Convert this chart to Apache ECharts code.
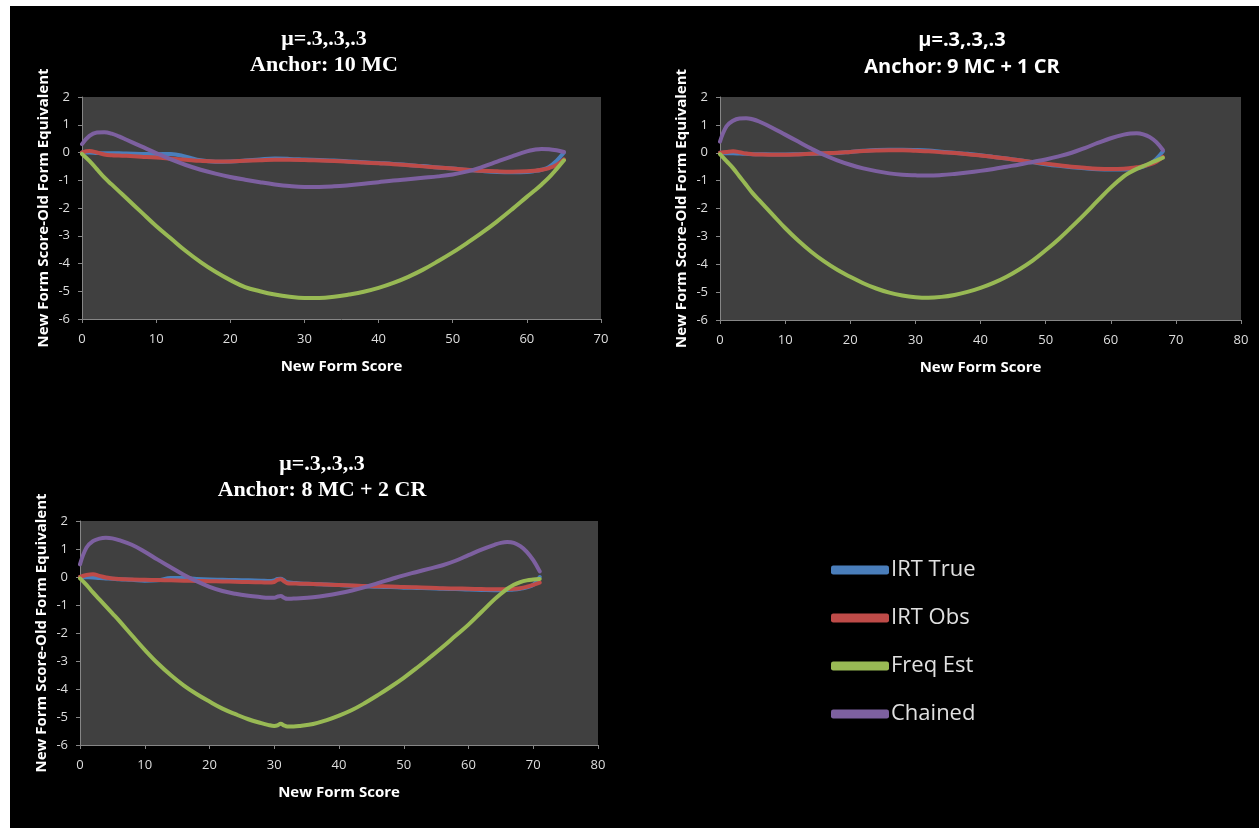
<!DOCTYPE html>
<html>
<head>
<meta charset="utf-8">
<script src="https://cdn.jsdelivr.net/npm/echarts@6/dist/echarts.min.js"></script>
<style>
html,body{margin:0;padding:0;background:#fff;width:1259px;height:828px;overflow:hidden;}
#chart{position:absolute;left:10px;top:6px;width:1249px;height:822px;background:#000;}
</style>
</head>
<body>
<div id="chart"></div>
<script>
// ---------- Data ----------
const seriesNames = ['IRT True', 'IRT Obs', 'Freq Est', 'Chained'];
const seriesColors = ['#4a7ebb', '#be4b48', '#98b954', '#7d60a0'];
const titles = ['μ=.3,.3,.3\nAnchor: 10 MC', 'μ=.3,.3,.3\nAnchor: 9 MC + 1 CR', 'μ=.3,.3,.3\nAnchor: 8 MC + 2 CR'];
const xMax = [70, 80, 80];

// Chart 1: Anchor 10 MC
const x1 = [0,1,2,3,4,5,6,8,10,12,14,16,18,20,22,24,26,28,30,32,34,36,38,40,42,44,46,48,50,52,54,56,58,60,61,62,63,64,65];
const irtTrue1 = [0,0,-0.02,-0.03,-0.03,-0.03,-0.04,-0.05,-0.06,-0.05,-0.15,-0.28,-0.33,-0.32,-0.29,-0.25,-0.22,-0.23,-0.25,-0.27,-0.29,-0.32,-0.35,-0.38,-0.41,-0.45,-0.49,-0.54,-0.58,-0.63,-0.67,-0.7,-0.71,-0.7,-0.67,-0.62,-0.52,-0.3,0];
const irtObs1 = [0,0.05,0,-0.07,-0.1,-0.11,-0.12,-0.15,-0.18,-0.22,-0.26,-0.3,-0.32,-0.32,-0.3,-0.28,-0.26,-0.26,-0.27,-0.29,-0.31,-0.33,-0.36,-0.39,-0.42,-0.46,-0.5,-0.54,-0.58,-0.62,-0.66,-0.68,-0.69,-0.68,-0.66,-0.62,-0.56,-0.45,-0.25];
const freqEst1 = [-0.05,-0.3,-0.6,-0.9,-1.15,-1.4,-1.65,-2.15,-2.65,-3.1,-3.55,-3.95,-4.3,-4.6,-4.85,-5.0,-5.12,-5.2,-5.24,-5.24,-5.2,-5.12,-5.02,-4.88,-4.7,-4.48,-4.22,-3.92,-3.6,-3.25,-2.88,-2.48,-2.05,-1.6,-1.38,-1.15,-0.9,-0.6,-0.28];
const chained1 = [0.3,0.6,0.72,0.73,0.68,0.58,0.46,0.22,-0.02,-0.25,-0.45,-0.62,-0.76,-0.88,-0.98,-1.07,-1.15,-1.21,-1.24,-1.24,-1.22,-1.18,-1.13,-1.07,-1.01,-0.96,-0.91,-0.86,-0.79,-0.68,-0.52,-0.33,-0.14,0.04,0.1,0.13,0.12,0.08,0.02];

// Chart 2: Anchor 9 MC + 1 CR
const x2 = [0,1,2,3,4,5,6,8,10,12,14,16,18,20,22,24,26,28,30,32,34,36,38,40,42,44,46,48,50,52,54,56,58,60,62,63,64,65,66,67,68];
const irtTrue2 = [0,-0.02,-0.02,-0.03,-0.04,-0.05,-0.05,-0.06,-0.06,-0.05,-0.04,-0.03,-0.01,0.03,0.07,0.1,0.11,0.11,0.1,0.08,0.04,0,-0.04,-0.09,-0.15,-0.21,-0.27,-0.34,-0.41,-0.47,-0.52,-0.56,-0.59,-0.6,-0.6,-0.59,-0.56,-0.5,-0.4,-0.22,0.05];
const irtObs2 = [0,0.03,0.05,0.02,-0.03,-0.05,-0.06,-0.07,-0.07,-0.06,-0.04,-0.02,0,0.03,0.06,0.08,0.09,0.09,0.07,0.05,0.02,-0.01,-0.05,-0.1,-0.15,-0.21,-0.27,-0.33,-0.39,-0.45,-0.5,-0.54,-0.57,-0.58,-0.57,-0.55,-0.52,-0.48,-0.42,-0.32,-0.15];
const freqEst2 = [-0.05,-0.3,-0.55,-0.85,-1.15,-1.45,-1.7,-2.2,-2.7,-3.15,-3.55,-3.9,-4.2,-4.45,-4.68,-4.87,-5.02,-5.12,-5.18,-5.2,-5.17,-5.1,-4.99,-4.85,-4.67,-4.45,-4.18,-3.87,-3.5,-3.1,-2.66,-2.2,-1.72,-1.25,-0.85,-0.7,-0.58,-0.48,-0.38,-0.28,-0.18];
const chained2 = [0.4,0.95,1.15,1.23,1.24,1.2,1.12,0.9,0.65,0.4,0.15,-0.08,-0.27,-0.43,-0.56,-0.66,-0.74,-0.79,-0.81,-0.82,-0.8,-0.76,-0.71,-0.65,-0.58,-0.5,-0.42,-0.33,-0.24,-0.13,0,0.17,0.35,0.52,0.65,0.69,0.7,0.66,0.56,0.38,0.1];

// Chart 3: Anchor 8 MC + 2 CR
const x3 = [0,1,2,3,4,5,6,8,10,12,14,16,18,20,22,24,26,28,29,30,30.5,31,31.5,32,33,34,36,38,40,42,44,46,48,50,52,54,56,58,60,62,64,65,66,67,68,69,70,71];
const irtTrue3 = [0,-0.01,-0.02,-0.04,-0.05,-0.06,-0.08,-0.1,-0.13,-0.12,-0.04,-0.04,-0.07,-0.09,-0.1,-0.11,-0.12,-0.13,-0.14,-0.12,-0.07,-0.06,-0.12,-0.19,-0.21,-0.23,-0.25,-0.27,-0.29,-0.31,-0.33,-0.35,-0.36,-0.38,-0.39,-0.4,-0.42,-0.43,-0.45,-0.46,-0.47,-0.47,-0.46,-0.45,-0.42,-0.37,-0.28,0];
const irtObs3 = [0,0.07,0.1,0.04,-0.02,-0.05,-0.07,-0.09,-0.1,-0.11,-0.12,-0.13,-0.14,-0.15,-0.16,-0.17,-0.18,-0.19,-0.2,-0.18,-0.1,-0.08,-0.15,-0.22,-0.23,-0.24,-0.25,-0.27,-0.29,-0.3,-0.32,-0.33,-0.34,-0.36,-0.37,-0.38,-0.4,-0.41,-0.42,-0.43,-0.44,-0.44,-0.43,-0.42,-0.4,-0.35,-0.28,-0.2];
const freqEst3 = [-0.05,-0.28,-0.55,-0.8,-1.05,-1.3,-1.55,-2.08,-2.6,-3.08,-3.5,-3.87,-4.18,-4.45,-4.7,-4.9,-5.08,-5.22,-5.28,-5.32,-5.3,-5.24,-5.3,-5.34,-5.34,-5.32,-5.25,-5.12,-4.95,-4.75,-4.5,-4.22,-3.92,-3.6,-3.25,-2.88,-2.5,-2.1,-1.7,-1.25,-0.8,-0.6,-0.42,-0.28,-0.18,-0.12,-0.09,-0.07];
const chained3 = [0.45,1.05,1.28,1.37,1.4,1.38,1.32,1.15,0.9,0.62,0.35,0.08,-0.15,-0.35,-0.5,-0.6,-0.67,-0.72,-0.74,-0.74,-0.7,-0.68,-0.74,-0.78,-0.77,-0.76,-0.72,-0.66,-0.58,-0.48,-0.36,-0.22,-0.08,0.06,0.18,0.3,0.42,0.58,0.78,0.98,1.15,1.22,1.25,1.22,1.1,0.9,0.6,0.2];

const yTicks = [-6,-5,-4,-3,-2,-1,0,1,2];
// ---------- Build ----------
const panels = [
  {x: x1, ys: [irtTrue1, irtObs1, freqEst1, chained1]},
  {x: x2, ys: [irtTrue2, irtObs2, freqEst2, chained2]},
  {x: x3, ys: [irtTrue3, irtObs3, freqEst3, chained3]}
];
const gridPos = [
  {left: 72, top: 91, width: 519, height: 222},
  {left: 710, top: 91, width: 521, height: 223},
  {left: 70, top: 515, width: 518, height: 224}
];
const titlePos = [
  {left: 309, top: 15, serif: true},
  {left: 947, top: 16, serif: false},
  {left: 307, top: 440, serif: true}
];
const lab = {color: '#dedede', fontSize: 13, fontFamily: 'Open Sans'};
const axisLine = {show: true, onZero: false, lineStyle: {color: '#868686', width: 1}};

const option = {
  backgroundColor: '#000',
  animation: false,
  title: titles.map((t, i) => ({
    text: t,
    left: titlePos[i].left,
    top: titlePos[i].top,
    textAlign: 'center',
    textStyle: titlePos[i].serif
      ? {color: '#fff', fontFamily: 'Liberation Serif', fontWeight: 'bold', fontSize: 22, lineHeight: 26}
      : {color: '#fff', fontFamily: 'Open Sans', fontWeight: 'bold', fontSize: 20, lineHeight: 27}
  })),
  legend: {
    orient: 'vertical',
    left: 816,
    top: 546,
    icon: 'roundRect',
    itemWidth: 58,
    itemHeight: 9,
    itemGap: 22,
    data: seriesNames,
    textStyle: {color: '#e0e0e0', fontSize: 22, fontFamily: 'Open Sans', lineHeight: 26, padding: [0, 0, 0, -3]}
  },
  grid: gridPos.map(g => Object.assign({show: true, backgroundColor: '#404040', borderWidth: 0, containLabel: false}, g)),
  xAxis: panels.map((p, i) => ({
    type: 'value', gridIndex: i, min: 0, max: xMax[i], interval: 10,
    name: 'New Form Score', nameLocation: 'middle', nameGap: 40,
    nameTextStyle: {color: '#fff', fontWeight: 'bold', fontSize: 15, fontFamily: 'Open Sans'},
    axisLine: axisLine, axisTick: {show: true, length: 4, lineStyle: {color: '#868686'}},
    axisLabel: Object.assign({margin: 14}, lab),
    splitLine: {show: false}
  })),
  yAxis: panels.map((p, i) => ({
    type: 'value', gridIndex: i, min: yTicks[0], max: yTicks[yTicks.length - 1], interval: 1,
    name: 'New Form Score-Old Form Equivalent', nameLocation: 'middle', nameGap: 31,
    nameTextStyle: {color: '#fff', fontWeight: 'bold', fontSize: 15, fontFamily: 'Open Sans'},
    axisLine: axisLine, axisTick: {show: true, length: 4, lineStyle: {color: '#868686'}},
    axisLabel: Object.assign({margin: 12}, lab),
    splitLine: {show: false}
  })),
  series: []
};
panels.forEach((p, i) => {
  p.ys.forEach((ys, k) => {
    option.series.push({
      type: 'line', name: seriesNames[k], xAxisIndex: i, yAxisIndex: i,
      data: p.x.map((xv, j) => [xv, ys[j]]),
      smooth: 0.4, showSymbol: false, symbol: 'none',
      color: seriesColors[k],
      lineStyle: {width: 4, color: seriesColors[k], cap: 'round', join: 'round'},
      z: 2 + k
    });
  });
});
const chart = echarts.init(document.getElementById('chart'), null, {renderer: 'canvas'});
chart.setOption(option);
</script>
</body>
</html>
